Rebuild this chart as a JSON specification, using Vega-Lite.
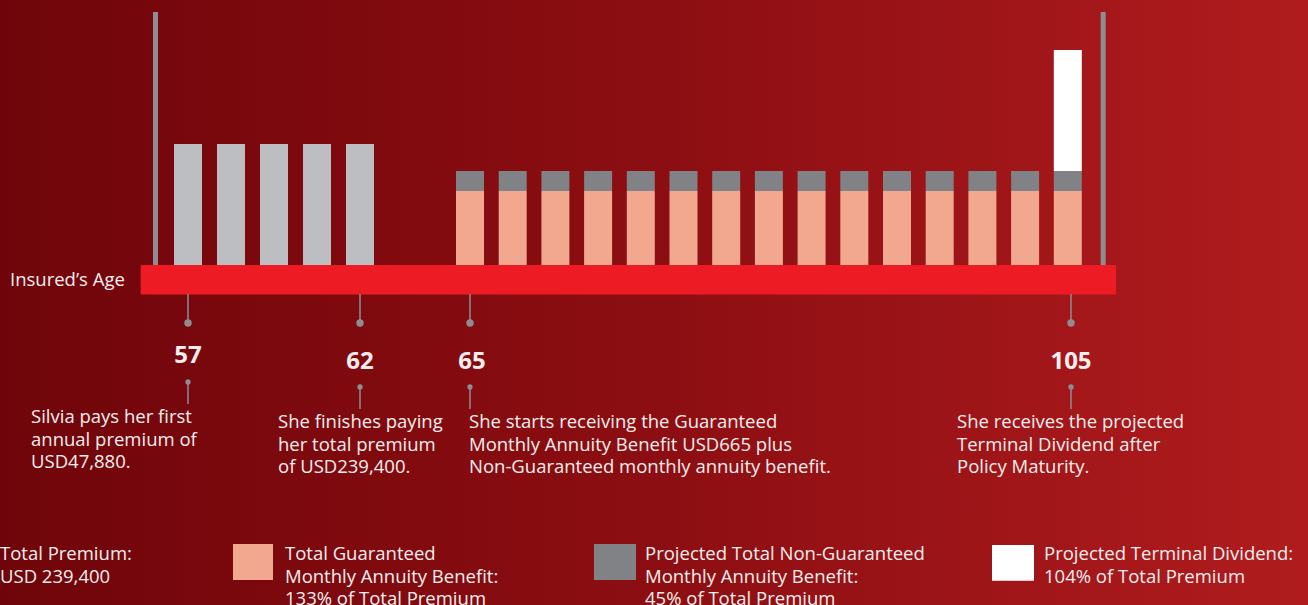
{
  "$schema": "https://vega.github.io/schema/vega-lite/v6.json",
  "width": 1308,
  "height": 605,
  "autosize": {"type": "none"},
  "padding": 0,
  "background": "#6F050A",
  "config": {"view": {"stroke": null}},
  "datasets": {
    "bg": [{"x": 0, "x2": 1308, "y": -340, "y2": 265}],
    "verticals": [
      {"x": 153, "x2": 158, "y": 0, "y2": 253},
      {"x": 1100.7, "x2": 1105.7, "y": 0, "y2": 253}
    ],
    "band": [{"x": 140.7, "x2": 1116, "y": -29.5, "y2": 0}],
    "bars": [
      {"cat": "premium", "x": 174, "x2": 202, "y": 0, "y2": 121},
      {"cat": "premium", "x": 217, "x2": 245, "y": 0, "y2": 121},
      {"cat": "premium", "x": 260, "x2": 288, "y": 0, "y2": 121},
      {"cat": "premium", "x": 303, "x2": 331, "y": 0, "y2": 121},
      {"cat": "premium", "x": 346, "x2": 374, "y": 0, "y2": 121},
      {"cat": "guaranteed", "x": 456, "x2": 484, "y": 0, "y2": 74},
      {"cat": "nonguaranteed", "x": 456, "x2": 484, "y": 74, "y2": 94},
      {"cat": "guaranteed", "x": 498.7, "x2": 526.7, "y": 0, "y2": 74},
      {"cat": "nonguaranteed", "x": 498.7, "x2": 526.7, "y": 74, "y2": 94},
      {"cat": "guaranteed", "x": 541.4, "x2": 569.4, "y": 0, "y2": 74},
      {"cat": "nonguaranteed", "x": 541.4, "x2": 569.4, "y": 74, "y2": 94},
      {"cat": "guaranteed", "x": 584.1, "x2": 612.1, "y": 0, "y2": 74},
      {"cat": "nonguaranteed", "x": 584.1, "x2": 612.1, "y": 74, "y2": 94},
      {"cat": "guaranteed", "x": 626.8, "x2": 654.8, "y": 0, "y2": 74},
      {"cat": "nonguaranteed", "x": 626.8, "x2": 654.8, "y": 74, "y2": 94},
      {"cat": "guaranteed", "x": 669.5, "x2": 697.5, "y": 0, "y2": 74},
      {"cat": "nonguaranteed", "x": 669.5, "x2": 697.5, "y": 74, "y2": 94},
      {"cat": "guaranteed", "x": 712.2, "x2": 740.2, "y": 0, "y2": 74},
      {"cat": "nonguaranteed", "x": 712.2, "x2": 740.2, "y": 74, "y2": 94},
      {"cat": "guaranteed", "x": 754.9, "x2": 782.9, "y": 0, "y2": 74},
      {"cat": "nonguaranteed", "x": 754.9, "x2": 782.9, "y": 74, "y2": 94},
      {"cat": "guaranteed", "x": 797.6, "x2": 825.6, "y": 0, "y2": 74},
      {"cat": "nonguaranteed", "x": 797.6, "x2": 825.6, "y": 74, "y2": 94},
      {"cat": "guaranteed", "x": 840.3, "x2": 868.3, "y": 0, "y2": 74},
      {"cat": "nonguaranteed", "x": 840.3, "x2": 868.3, "y": 74, "y2": 94},
      {"cat": "guaranteed", "x": 883, "x2": 911, "y": 0, "y2": 74},
      {"cat": "nonguaranteed", "x": 883, "x2": 911, "y": 74, "y2": 94},
      {"cat": "guaranteed", "x": 925.7, "x2": 953.7, "y": 0, "y2": 74},
      {"cat": "nonguaranteed", "x": 925.7, "x2": 953.7, "y": 74, "y2": 94},
      {"cat": "guaranteed", "x": 968.4, "x2": 996.4, "y": 0, "y2": 74},
      {"cat": "nonguaranteed", "x": 968.4, "x2": 996.4, "y": 74, "y2": 94},
      {"cat": "guaranteed", "x": 1011.1, "x2": 1039.1, "y": 0, "y2": 74},
      {"cat": "nonguaranteed", "x": 1011.1, "x2": 1039.1, "y": 74, "y2": 94},
      {"cat": "guaranteed", "x": 1053.8, "x2": 1081.8, "y": 0, "y2": 74},
      {"cat": "nonguaranteed", "x": 1053.8, "x2": 1081.8, "y": 74, "y2": 94},
      {"cat": "terminal", "x": 1053.8, "x2": 1081.8, "y": 94, "y2": 215},
      {"cat": "guaranteed", "x": 233, "x2": 273, "y": -279, "y2": -315},
      {"cat": "nonguaranteed", "x": 594, "x2": 636, "y": -279, "y2": -315},
      {"cat": "terminal", "x": 992, "x2": 1034, "y": -280, "y2": -315.7}
    ],
    "connectors": [
      {"x": 188, "y": -29, "y2": -58},
      {"x": 188, "y": -117, "y2": -139},
      {"x": 360, "y": -29, "y2": -58},
      {"x": 360, "y": -122, "y2": -144},
      {"x": 470, "y": -29, "y2": -58},
      {"x": 470, "y": -122, "y2": -144},
      {"x": 1071, "y": -29, "y2": -58},
      {"x": 1071, "y": -122, "y2": -144}
    ],
    "bigdots": [
      {"x": 188, "y": -58},
      {"x": 360, "y": -58},
      {"x": 470, "y": -58},
      {"x": 1071, "y": -58}
    ],
    "smalldots": [
      {"x": 188, "y": -117},
      {"x": 360, "y": -122},
      {"x": 470, "y": -122},
      {"x": 1071, "y": -122}
    ],
    "ages": [
      {"x": 188, "y": -98, "text": "57"},
      {"x": 360, "y": -103.5, "text": "62"},
      {"x": 472, "y": -103.5, "text": "65"},
      {"x": 1071, "y": -103.5, "text": "105"}
    ],
    "texts": [
      {"x": 31, "y": -158, "text": "Silvia pays her first\nannual premium of\nUSD47,880."},
      {"x": 278, "y": -163, "text": "She finishes paying\nher total premium\nof USD239,400."},
      {"x": 469, "y": -163, "text": "She starts receiving the Guaranteed\nMonthly Annuity Benefit USD665 plus\nNon-Guaranteed monthly annuity benefit."},
      {"x": 957, "y": -163, "text": "She receives the projected\nTerminal Dividend after\nPolicy Maturity."},
      {"x": 0, "y": -295, "text": "Total Premium:\nUSD 239,400"},
      {"x": 285, "y": -295, "text": "Total Guaranteed\nMonthly Annuity Benefit:\n133% of Total Premium"},
      {"x": 645, "y": -295, "text": "Projected Total Non-Guaranteed\nMonthly Annuity Benefit:\n45% of Total Premium"},
      {"x": 1044, "y": -295, "text": "Projected Terminal Dividend:\n104% of Total Premium"}
    ],
    "axislabel": [{"x": 10, "y": -21, "text": "Insured’s Age"}]
  },
  "layer": [
    {
      "data": {"name": "bg"},
      "mark": {"type": "rect", "color": {"gradient": "linear", "x1": 0, "y1": 0, "x2": 1, "y2": 0, "stops": [{"offset": 0, "color": "#6F050A"}, {"offset": 0.5, "color": "#8C0E12"}, {"offset": 1, "color": "#B01C1E"}]}},
      "encoding": {
        "x": {"field": "x", "type": "quantitative", "scale": {"domain": [0, 1308], "nice": false, "zero": false}, "axis": null},
        "x2": {"field": "x2"},
        "y": {"field": "y", "type": "quantitative", "scale": {"domain": [-340, 265], "nice": false, "zero": false}, "axis": null},
        "y2": {"field": "y2"}
      }
    },
    {
      "data": {"name": "verticals"},
      "mark": {"type": "rect", "color": "#8E8E92"},
      "encoding": {
        "x": {"field": "x", "type": "quantitative"},
        "x2": {"field": "x2"},
        "y": {"field": "y", "type": "quantitative"},
        "y2": {"field": "y2"}
      }
    },
    {
      "data": {"name": "bars"},
      "mark": {"type": "rect"},
      "encoding": {
        "x": {"field": "x", "type": "quantitative"},
        "x2": {"field": "x2"},
        "y": {"field": "y", "type": "quantitative"},
        "y2": {"field": "y2"},
        "color": {"field": "cat", "type": "nominal", "scale": {"domain": ["premium", "guaranteed", "nonguaranteed", "terminal"], "range": ["#BDBEC1", "#F1A88F", "#818285", "#FFFFFF"]}, "legend": null}
      }
    },
    {
      "data": {"name": "band"},
      "mark": {"type": "rect", "color": "#ED1C24"},
      "encoding": {
        "x": {"field": "x", "type": "quantitative"},
        "x2": {"field": "x2"},
        "y": {"field": "y", "type": "quantitative"},
        "y2": {"field": "y2"}
      }
    },
    {
      "data": {"name": "connectors"},
      "mark": {"type": "rule", "color": "#8E8E92", "strokeWidth": 1.5},
      "encoding": {
        "x": {"field": "x", "type": "quantitative"},
        "y": {"field": "y", "type": "quantitative"},
        "y2": {"field": "y2"}
      }
    },
    {
      "data": {"name": "bigdots"},
      "mark": {"type": "circle", "color": "#8E8E92", "size": 55, "opacity": 1},
      "encoding": {
        "x": {"field": "x", "type": "quantitative"},
        "y": {"field": "y", "type": "quantitative"}
      }
    },
    {
      "data": {"name": "smalldots"},
      "mark": {"type": "circle", "color": "#8E8E92", "size": 28, "opacity": 1},
      "encoding": {
        "x": {"field": "x", "type": "quantitative"},
        "y": {"field": "y", "type": "quantitative"}
      }
    },
    {
      "data": {"name": "ages"},
      "mark": {"type": "text", "font": "Open Sans", "fontSize": 24, "fontWeight": "bold", "color": "#F6EEEE", "align": "center", "baseline": "alphabetic"},
      "encoding": {
        "x": {"field": "x", "type": "quantitative"},
        "y": {"field": "y", "type": "quantitative"},
        "text": {"field": "text"}
      }
    },
    {
      "data": {"name": "texts"},
      "mark": {"type": "text", "font": "Open Sans", "fontSize": 18.5, "color": "#F6EEEE", "align": "left", "baseline": "alphabetic", "lineBreak": "\n", "lineHeight": 22.5},
      "encoding": {
        "x": {"field": "x", "type": "quantitative"},
        "y": {"field": "y", "type": "quantitative"},
        "text": {"field": "text"}
      }
    },
    {
      "data": {"name": "axislabel"},
      "mark": {"type": "text", "font": "Open Sans", "fontSize": 18.5, "color": "#F6EEEE", "align": "left", "baseline": "alphabetic"},
      "encoding": {
        "x": {"field": "x", "type": "quantitative"},
        "y": {"field": "y", "type": "quantitative"},
        "text": {"field": "text"}
      }
    }
  ]
}
